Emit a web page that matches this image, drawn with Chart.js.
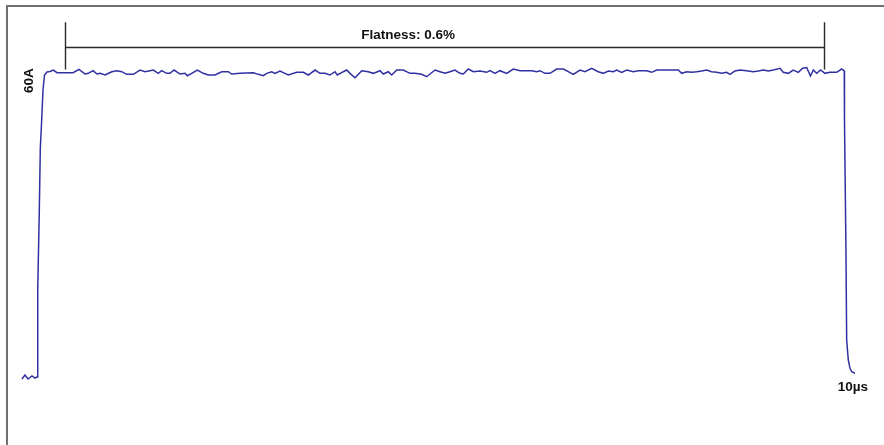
<!DOCTYPE html>
<html>
<head>
<meta charset="utf-8">
<script src="https://cdn.jsdelivr.net/npm/chart.js@4/dist/chart.umd.min.js"></script>
<style>
  html, body { margin: 0; padding: 0; background: #fff; }
  #wrap { position: relative; width: 884px; height: 445px; overflow: hidden; }
  #frame { position: absolute; left: 6px; top: 5px; width: 1000px; height: 600px;
           border-left: 2px solid #707070; border-top: 2px solid #707070; }
  canvas { position: absolute; left: 0; top: 0; }
</style>
</head>
<body>
<div id="wrap">
  <div id="frame"></div>
  <canvas id="scope" width="884" height="445"></canvas>
</div>
<script>
// Pulse current trace: time in µs, current in A
const preTime    = [-0.186, -0.149, -0.111, -0.062, -0.025];
const preCurrent = [-0.39, 0.39, -0.39, 0.20, -0.20];

const riseTime    = [0.000, 0.009, 0.028, 0.041, 0.058, 0.074, 0.093];
const riseCurrent = [0.00, 17.14, 32.32, 45.12, 50.64, 56.55, 59.51];

const topTime = [
  0.124, 0.161, 0.202, 0.248, 0.347, 0.446, 0.520, 0.594, 0.635, 0.693,
  0.743, 0.780, 0.842, 0.925, 0.986, 1.048, 1.110, 1.192, 1.275, 1.337,
  1.399, 1.439, 1.501, 1.543, 1.605, 1.646, 1.696, 1.770, 1.832, 1.860,
  1.915, 1.984, 2.058, 2.120, 2.203, 2.286, 2.368, 2.410, 2.512, 2.677,
  2.739, 2.801, 2.843, 2.905, 2.946, 3.007, 3.069, 3.110, 3.214, 3.296,
  3.358, 3.441, 3.502, 3.564, 3.626, 3.688, 3.717, 3.791, 3.833, 3.874,
  3.936, 4.019, 4.100, 4.162, 4.245, 4.286, 4.348, 4.390, 4.452, 4.533,
  4.616, 4.678, 4.761, 4.823, 4.926, 4.988, 5.050, 5.111, 5.173, 5.235,
  5.276, 5.338, 5.400, 5.483, 5.565, 5.606, 5.668, 5.730, 5.813, 5.895,
  5.978, 6.061, 6.123, 6.184, 6.225, 6.287, 6.349, 6.432, 6.514, 6.575,
  6.637, 6.720, 6.782, 6.865, 6.947, 7.009, 7.070, 7.132, 7.174, 7.236,
  7.298, 7.380, 7.442, 7.546, 7.608, 7.670, 7.937, 7.979, 8.041, 8.103,
  8.165, 8.226, 8.288, 8.350, 8.412, 8.474, 8.536, 8.577, 8.639, 8.701,
  8.783, 8.865, 8.927, 8.989, 9.051, 9.113, 9.196, 9.236, 9.298, 9.360,
  9.422, 9.477, 9.526, 9.573, 9.608, 9.650, 9.699, 9.752, 9.814, 9.897,
  9.959, 9.991
];
const topCurrent = [
  60.10, 60.20, 60.49, 59.96, 59.96, 59.96, 60.63, 59.70, 59.84, 60.36,
  59.70, 59.84, 59.51, 60.16, 60.36, 60.16, 59.64, 59.64, 60.49, 60.16,
  60.36, 60.49, 59.84, 60.36, 59.84, 59.84, 60.49, 59.70, 59.84, 59.37,
  59.84, 60.49, 59.84, 59.51, 59.51, 60.16, 60.16, 59.70, 59.84, 59.96,
  59.64, 59.37, 59.84, 60.16, 59.84, 60.30, 59.84, 59.51, 60.04, 60.04,
  59.51, 60.49, 59.84, 59.84, 59.51, 60.16, 59.51, 60.16, 60.49, 59.84,
  58.98, 60.36, 60.16, 59.84, 60.36, 59.70, 60.16, 59.51, 60.49, 60.49,
  59.84, 59.84, 59.64, 59.17, 60.49, 60.16, 59.84, 60.16, 60.49, 59.84,
  59.70, 60.69, 60.16, 60.30, 60.04, 60.36, 59.84, 60.36, 59.84, 60.69,
  60.36, 60.36, 60.36, 60.16, 60.36, 59.84, 59.84, 60.69, 60.69, 60.16,
  59.64, 60.49, 60.16, 60.83, 60.16, 59.84, 60.30, 60.16, 60.49, 60.04,
  60.49, 60.16, 60.36, 60.36, 60.04, 60.49, 60.49, 59.84, 60.16, 60.04,
  60.16, 60.30, 60.49, 60.16, 60.04, 59.84, 60.04, 59.64, 60.30, 60.49,
  60.36, 60.16, 60.30, 60.49, 60.30, 60.49, 60.83, 60.04, 59.84, 60.49,
  60.04, 60.83, 60.99, 59.31, 60.49, 59.84, 60.49, 59.84, 60.04, 60.04,
  60.69, 60.30
];

const fallTime    = [9.994, 10.012, 10.021, 10.041, 10.062, 10.083, 10.124];
const fallCurrent = [50.64, 25.02, 7.29, 3.35, 1.71, 1.04, 0.73];

// Flatness measurement window and its label
const flatStart = 0.347;
const flatEnd = 9.746;
const flatLabel = 'Flatness: 0.6%';
const levelLabel = '60A';
const widthLabel = '10µs';

const traceTime = [].concat(preTime, riseTime, topTime, fallTime);
const traceCurrent = [].concat(preCurrent, riseCurrent, topCurrent, fallCurrent);
const points = traceTime.map((t, i) => ({ x: t, y: traceCurrent[i] }));

const FONT = 'bold 13.5px "Liberation Sans", Arial, sans-serif';

const annotations = {
  id: 'scopeAnnotations',
  afterDatasetsDraw(chart) {
    const { ctx, scales: { x, y } } = chart;
    ctx.save();
    // bracket over the flat region
    const x0 = Math.round(x.getPixelForValue(flatStart)) + 0.5;
    const x1 = Math.round(x.getPixelForValue(flatEnd)) + 0.5;
    const yb = Math.round(y.getPixelForValue(65.0)) + 0.5;
    const yt = y.getPixelForValue(69.9);
    const yl = y.getPixelForValue(60.6);
    ctx.strokeStyle = '#2a2a2a';
    ctx.lineWidth = 1.4;
    ctx.beginPath();
    ctx.moveTo(x0, yb); ctx.lineTo(x1, yb);
    ctx.moveTo(x0, yt); ctx.lineTo(x0, yl);
    ctx.moveTo(x1, yt); ctx.lineTo(x1, yl);
    ctx.stroke();

    ctx.fillStyle = '#111';
    ctx.font = FONT;
    ctx.textAlign = 'center';
    ctx.textBaseline = 'middle';
    ctx.fillText(flatLabel, x.getPixelForValue(4.592), y.getPixelForValue(67.3));

    // pulse width label under the falling edge
    ctx.fillText(widthLabel, x.getPixelForValue(10.099), y.getPixelForValue(-2.07));

    // amplitude label, rotated, beside the rising edge
    ctx.translate(x.getPixelForValue(-0.093), y.getPixelForValue(58.4));
    ctx.rotate(-Math.PI / 2);
    ctx.fillText(levelLabel, 0, 0);
    ctx.restore();
  }
};

new Chart(document.getElementById('scope'), {
  type: 'line',
  data: {
    datasets: [{
      data: points,
      borderColor: '#3030a2',
      borderWidth: 1.5,
      pointRadius: 0,
      tension: 0,
      fill: false
    }]
  },
  options: {
    responsive: false,
    animation: false,
    devicePixelRatio: 1,
    layout: { padding: 0 },
    plugins: { legend: { display: false }, tooltip: { enabled: false } },
    scales: {
      x: { type: 'linear', min: -0.458, max: 10.483, display: false },
      y: { type: 'linear', min: -13.4, max: 74.29, display: false }
    }
  },
  plugins: [annotations]
});
</script>
</body>
</html>
